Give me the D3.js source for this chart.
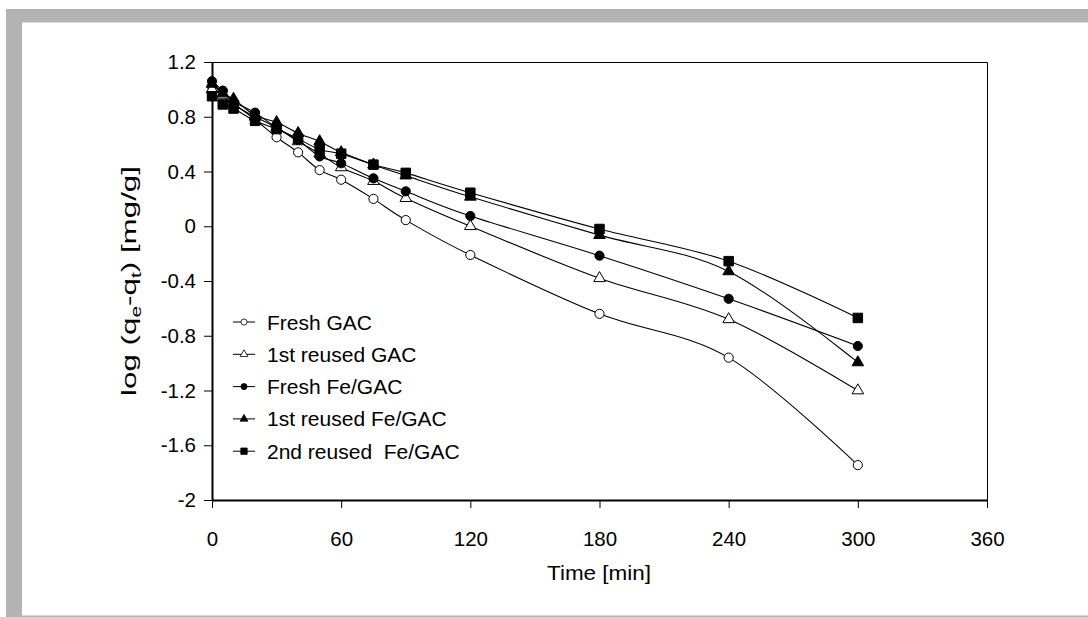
<!DOCTYPE html>
<html>
<head>
<meta charset="utf-8">
<script src="https://cdn.jsdelivr.net/npm/d3@7"></script>
<style>
  html, body { margin: 0; padding: 0; background: #fff; }
  svg { display: block; font-family: "Liberation Sans", Arial, sans-serif; }
  text { white-space: pre; }
</style>
</head>
<body>
<div id="chart"></div>
<script>
// sampling times (min)
const times = [0, 5, 10, 20, 30, 40, 50, 60, 75, 90, 120, 180, 240, 300];

// log(qe-qt) values
const freshGAC = [1.02, 0.99, 0.90, 0.78, 0.65, 0.54, 0.41, 0.34, 0.20, 0.045, -0.21, -0.64, -0.96, -1.745];
const reused1GAC = [1.00, 0.96, 0.89, 0.80, 0.72, 0.62, 0.53, 0.43, 0.33, 0.205, 0.00, -0.38, -0.68, -1.20];
const freshFeGAC = [1.06, 0.99, 0.91, 0.83, 0.72, 0.63, 0.51, 0.46, 0.35, 0.255, 0.075, -0.215, -0.53, -0.875];
const reused1FeGAC = [1.04, 0.97, 0.93, 0.81, 0.76, 0.68, 0.62, 0.54, 0.45, 0.37, 0.215, -0.065, -0.33, -0.995];
const reused2FeGAC = [0.95, 0.89, 0.86, 0.77, 0.71, 0.64, 0.56, 0.53, 0.45, 0.39, 0.245, -0.02, -0.255, -0.67];

const seriesNames = ["Fresh GAC", "1st reused GAC", "Fresh Fe/GAC", "1st reused Fe/GAC", "2nd reused  Fe/GAC"];
const xTicks = [0, 60, 120, 180, 240, 300, 360];
const yTicks = [-2, -1.6, -1.2, -0.8, -0.4, 0, 0.4, 0.8, 1.2];

(function() {
  const W = 1088, H = 617;
  const pLeft = 212, pRight = 987, pTop = 62, pBottom = 500;

  const svg = d3.select("#chart").append("svg")
    .attr("width", W)
    .attr("height", H);

  // grey frame around the page
  svg.append("rect").attr("x", 6).attr("y", 9).attr("width", W - 6).attr("height", 13.5).attr("fill", "#b3b3b3");
  svg.append("rect").attr("x", 6).attr("y", 9).attr("width", 16).attr("height", 607).attr("fill", "#b3b3b3");
  svg.append("rect").attr("x", 6).attr("y", 615.5).attr("width", W - 6).attr("height", 1.5).attr("fill", "#b3b3b3");

  const x = d3.scaleLinear().domain([0, 360]).range([pLeft, pRight]);
  const y = d3.scaleLinear().domain([-2, 1.2]).range([pBottom, pTop]);

  // thin top/right border of plot area
  svg.append("path")
    .attr("d", `M${pLeft},${pTop + 0.5}H${pRight + 0.5}V${pBottom}`)
    .attr("fill", "none")
    .attr("stroke", "#000")
    .attr("stroke-width", 1);

  // axes
  const xAxis = svg.append("g")
    .attr("transform", `translate(0,${pBottom})`)
    .call(d3.axisBottom(x).tickValues(xTicks).tickSize(8).tickPadding(23).tickSizeOuter(0).tickFormat(d => d));
  const yAxis = svg.append("g")
    .attr("transform", `translate(${pLeft},0)`)
    .call(d3.axisLeft(y).tickValues(yTicks).tickSize(8).tickPadding(8).tickSizeOuter(0)
      .tickFormat(d => Number.isInteger(d) ? String(d) : d.toFixed(1)));

  [xAxis, yAxis].forEach(g => {
    g.select(".domain").attr("stroke", "#000").attr("stroke-width", 2);
    g.selectAll(".tick line").attr("stroke", "#000").attr("stroke-width", 1);
    g.selectAll(".tick text").attr("font-size", 20.5).attr("fill", "#000")
      .attr("font-family", "'Liberation Sans', Arial, sans-serif");
  });

  // axis titles
  svg.append("text")
    .attr("x", 599)
    .attr("y", 580)
    .attr("text-anchor", "middle")
    .attr("font-size", 21)
    .attr("textLength", 104)
    .attr("lengthAdjust", "spacingAndGlyphs")
    .text("Time [min]");

  // y title is stretched along its length in the original
  const yTitle = svg.append("text")
    .attr("transform", `translate(136,${(pTop + pBottom) / 2}) rotate(-90)`)
    .attr("text-anchor", "middle")
    .attr("font-size", 21)
    .attr("textLength", 230)
    .attr("lengthAdjust", "spacingAndGlyphs");
  yTitle.append("tspan").text("log (q");
  yTitle.append("tspan").attr("font-size", 14).attr("dy", 5).text("e");
  yTitle.append("tspan").attr("dy", -5).text("-q");
  yTitle.append("tspan").attr("font-size", 14).attr("dy", 5).text("t");
  yTitle.append("tspan").attr("dy", -5).text(") [mg/g]");

  // series definitions
  const series = [
    {name: seriesNames[0], values: freshGAC, shape: "circle", fill: "#fff"},
    {name: seriesNames[1], values: reused1GAC, shape: "triangle", fill: "#fff"},
    {name: seriesNames[2], values: freshFeGAC, shape: "circle", fill: "#000"},
    {name: seriesNames[3], values: reused1FeGAC, shape: "triangle", fill: "#000"},
    {name: seriesNames[4], values: reused2FeGAC, shape: "square", fill: "#000"}
  ];

  const symbolType = {circle: d3.symbolCircle, triangle: d3.symbolTriangle, square: d3.symbolSquare};
  const symbolSize = {circle: 66, triangle: 58, square: 90};

  const line = d3.line()
    .curve(d3.curveCardinal.tension(0))
    .x((d, i) => x(times[i]))
    .y(d => y(d));

  // each series drawn in turn (line then markers), later ones on top
  series.forEach(s => {
    const g = svg.append("g");
    g.append("path")
      .attr("d", line(s.values))
      .attr("fill", "none")
      .attr("stroke", "#000")
      .attr("stroke-width", 1.1);
    g.selectAll(".mk")
      .data(s.values)
      .join("path")
      .attr("class", "mk")
      .attr("transform", (d, i) => `translate(${x(times[i])},${y(d)})`)
      .attr("d", d3.symbol().type(symbolType[s.shape]).size(symbolSize[s.shape]))
      .attr("fill", s.fill)
      .attr("stroke", "#000")
      .attr("stroke-width", 1);
  });

  // legend
  const legend = svg.append("g").attr("transform", "translate(233,322)");
  const legendRow = legend.selectAll("g")
    .data(series)
    .join("g")
    .attr("transform", (d, i) => `translate(0,${i * 32.3})`);
  legendRow.append("line")
    .attr("x1", 0).attr("x2", 22).attr("y1", 0).attr("y2", 0)
    .attr("stroke", "#000").attr("stroke-width", 1);
  legendRow.append("path")
    .attr("transform", "translate(11,0)")
    .attr("d", d => d3.symbol().type(symbolType[d.shape]).size(symbolSize[d.shape] * 0.45)())
    .attr("fill", d => d.fill)
    .attr("stroke", "#000")
    .attr("stroke-width", 0.8);
  legendRow.append("text")
    .attr("x", 34)
    .attr("dy", "0.36em")
    .attr("font-size", 21)
    .text(d => d.name);
})();
</script>
</body>
</html>
